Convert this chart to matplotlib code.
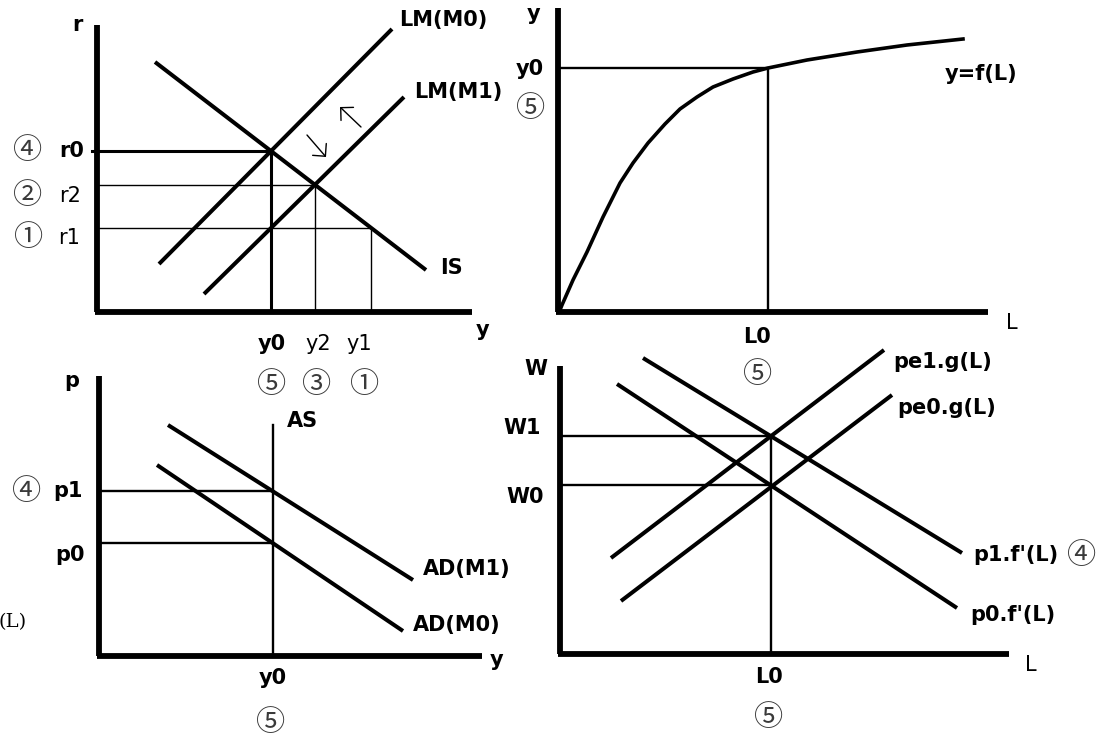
import matplotlib.pyplot as plt
import numpy as np

plt.rcParams['font.family'] = ['DejaVu Sans']

W, H = 1105, 743

# IS-LM (arriba izquierda), origen en el cruce de ejes
is_x, is_y = [58, 329], [250, 42]
lm0_x, lm0_y = [62, 295], [48, 283]
lm1_x, lm1_y = [107, 307], [18, 215]

# funcion de produccion y = f(L)
prod_L = [2, 4, 15, 29, 45, 62, 75, 90, 107, 122, 139, 155, 175, 195, 210, 249, 299, 349, 405]
prod_y = [2, 7, 32, 60, 95, 129, 149, 169, 188, 203, 215, 225, 233, 240, 244, 252, 260, 267, 273]
L0 = 210

# AD-AS
ad1_x, ad1_y = [69, 314], [231, 76]
ad0_x, ad0_y = [58, 304], [191, 25]
as_x, as_top = 174, 231

# mercado de trabajo
p1f_x, p1f_y = [83, 402], [296, 101]
p0f_x, p0f_y = [57, 397], [270, 46]
pe1_x, pe1_y = [51, 324], [96, 304]
pe0_x, pe0_y = [61, 332], [53, 259]


def cruce(ax_, ay_, bx_, by_):
    m1 = (ay_[1] - ay_[0]) / (ax_[1] - ax_[0])
    m2 = (by_[1] - by_[0]) / (bx_[1] - bx_[0])
    b1 = ay_[0] - m1 * ax_[0]
    b2 = by_[0] - m2 * bx_[0]
    x = (b2 - b1) / (m1 - m2)
    return x, m1 * x + b1


def valor(xs, ys, x):
    return np.interp(x, xs, ys) if xs[0] < xs[1] else np.interp(x, xs[::-1], ys[::-1])


fig = plt.figure(figsize=(W / 100, H / 100), dpi=100)


def panel(ox, oy):
    ax = fig.add_axes([0, 0, 1, 1])
    ax.set_xlim(-ox, W - ox)
    ax.set_ylim(oy - H, oy)
    ax.axis('off')
    ax.patch.set_alpha(0)
    return ax


def ejes(ax, xmax, ymax):
    ax.plot([0, 0], [0, ymax], color='k', lw=4.2, solid_capstyle='butt')
    ax.plot([-2, xmax], [0, 0], color='k', lw=4.2, solid_capstyle='butt')


def recta(ax, xs, ys, lw=2.9):
    ax.plot(xs, ys, color='k', lw=lw, solid_capstyle='butt')


def txt(x, y, s, ha='center', bold=True, size=15, **kw):
    fig.text(x / W, 1 - y / H, s, ha=ha, va='center', size=size,
             fontweight='bold' if bold else 'normal', **kw)


def circ(x, y, s):
    fig.text(x / W, 1 - y / H, s, ha='center', va='center', size=21,
             family=['Noto Sans CJK JP', 'DejaVu Sans'], color='#3a3a3a')


# ---- panel 1: IS-LM ----
ax1 = panel(97, 312)
ejes(ax1, 375, 287)
recta(ax1, is_x, is_y)
recta(ax1, lm0_x, lm0_y)
recta(ax1, lm1_x, lm1_y)
y0, r0 = cruce(is_x, is_y, lm0_x, lm0_y)
y2, r2 = cruce(is_x, is_y, lm1_x, lm1_y)
r1 = valor(lm1_x, lm1_y, y0)
y1 = np.interp(r1, is_y[::-1], is_x[::-1])
ax1.plot([-5, y0, y0], [r0, r0, 0], color='k', lw=2.2)
ax1.plot([0, y2, y2], [r2, r2, 0], color='k', lw=1.0)
ax1.plot([0, y1, y1], [r1, r1, 0], color='k', lw=1.0)
flecha = dict(arrowstyle='->,head_length=0.65,head_width=0.65', lw=1.0,
              color='k', shrinkA=0, shrinkB=0, mutation_scale=10)
ax1.annotate('', xy=(229, 155), xytext=(210, 177), arrowprops=flecha)
ax1.annotate('', xy=(243, 205), xytext=(264, 185), arrowprops=flecha)

txt(77, 25, 'r')
txt(399, 20, 'LM(M0)', ha='left')
txt(414, 92, 'LM(M1)', ha='left')
txt(440, 268, 'IS', ha='left')
circ(28, 151, '④')
txt(84, 151, 'r0', ha='right')
circ(28, 196, '②')
txt(81, 196, 'r2', ha='right', bold=False)
circ(29, 238, '①')
txt(80, 238, 'r1', ha='right', bold=False)
txt(483, 330, 'y')
txt(272, 344, 'y0')
txt(318, 344, 'y2', bold=False)
txt(359, 344, 'y1', bold=False)
circ(272, 385, '⑤')
circ(317, 385, '③')
circ(365, 385, '①')

# ---- panel 2: funcion de produccion ----
ax2 = panel(558, 312)
ejes(ax2, 430, 304)
ax2.plot(prod_L, prod_y, color='k', lw=2.6, solid_joinstyle='round')
yp0 = np.interp(L0, prod_L, prod_y)
ax2.plot([0, L0, L0], [yp0, yp0, 0], color='k', lw=1.7)

txt(534, 14, 'y')
txt(544, 69, 'y0', ha='right')
circ(531, 109, '⑤')
txt(945, 74, 'y=f(L)', ha='left')
txt(1012, 323, 'L', bold=False)
txt(757, 337, 'L0')
circ(758, 375, '⑤')

# ---- panel 3: AD-AS ----
ax3 = panel(99, 656)
ejes(ax3, 383, 280)
recta(ax3, ad1_x, ad1_y)
recta(ax3, ad0_x, ad0_y)
ax3.plot([as_x, as_x], [0, as_top], color='k', lw=1.7)
p1 = valor(ad1_x, ad1_y, as_x)
p0 = valor(ad0_x, ad0_y, as_x)
ax3.plot([0, as_x], [p1, p1], color='k', lw=1.7)
ax3.plot([0, as_x], [p0, p0], color='k', lw=1.7)

txt(72, 381, 'p')
txt(287, 421, 'AS', ha='left')
circ(27, 492, '④')
txt(83, 491, 'p1', ha='right')
txt(85, 555, 'p0', ha='right')
txt(423, 569, 'AD(M1)', ha='left')
txt(413, 625, 'AD(M0)', ha='left')
txt(497, 660, 'y')
txt(273, 678, 'y0')
circ(271, 723, '⑤')
fig.text(-1 / W, 1 - 622 / H, '(L)', ha='left', va='center', size=14,
         family='DejaVu Serif')

# ---- panel 4: mercado de trabajo ----
ax4 = panel(560, 654)
ejes(ax4, 449, 288)
recta(ax4, p1f_x, p1f_y)
recta(ax4, p0f_x, p0f_y)
recta(ax4, pe1_x, pe1_y)
recta(ax4, pe0_x, pe0_y)
Lw0, w1 = cruce(p1f_x, p1f_y, pe1_x, pe1_y)
w0 = valor(p0f_x, p0f_y, Lw0)
ax4.plot([0, Lw0, Lw0], [w1, w1, 0], color='k', lw=1.7)
ax4.plot([0, Lw0], [w0, w0], color='k', lw=1.7)

txt(547, 369, 'W', ha='right')
txt(541, 428, 'W1', ha='right')
txt(544, 497, 'W0', ha='right')
txt(893, 362, 'pe1.g(L)', ha='left')
txt(897, 408, 'pe0.g(L)', ha='left')
txt(973, 555, "p1.f'(L)", ha='left')
circ(1082, 556, '④')
txt(970, 615, "p0.f'(L)", ha='left')
txt(1031, 665, 'L', bold=False)
txt(769, 677, 'L0')
circ(769, 718, '⑤')

fig.savefig('out.png', dpi=100)
